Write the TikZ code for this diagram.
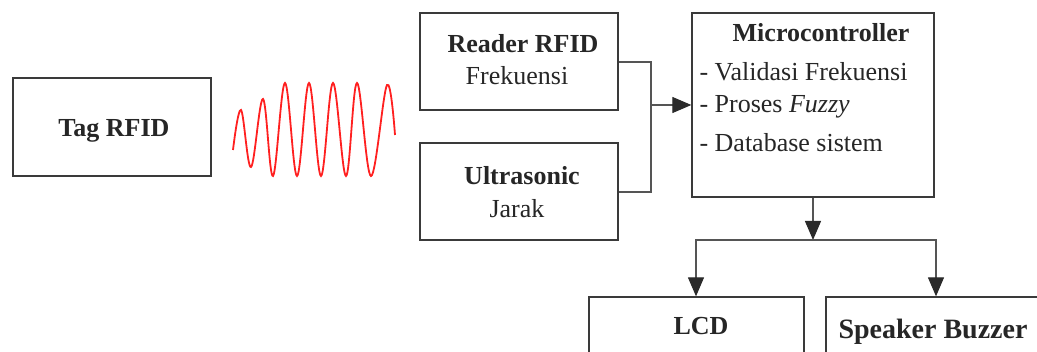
\documentclass[tikz,border=0pt]{standalone}
\usepackage{fontspec}
\setmainfont{Liberation Serif}
\usepackage{xcolor}
\usetikzlibrary{arrows.meta}

\definecolor{boxline}{HTML}{3A3A3A}
\definecolor{wireline}{HTML}{555555}
\definecolor{tipfill}{HTML}{2A2A2A}
\definecolor{waveline}{HTML}{FF2020}

\tikzset{
  blok/.style={draw=boxline, line width=1.3pt, inner sep=0pt},
  wire/.style={draw=wireline, line width=1.2pt},
  panah/.style={wire, -{Triangle[length=19pt,width=16pt,color=tipfill]}},
  teks/.style={font=\fontsize{26}{31}\selectfont, text=black!85},
  tebal/.style={teks, font=\fontsize{26}{31}\selectfont\bfseries}
}

\begin{document}
\begin{tikzpicture}[x=1pt, y=-1pt]
  \useasboundingbox (0,0) rectangle (1037,352);
  \clip (0,0) rectangle (1037,352);
  % blocks
  \node[blok, minimum width=198pt, minimum height=98pt] (tag) at (112,127) {};
  \node[blok, minimum width=198pt, minimum height=97pt] (reader) at (519,61.5) {};
  \node[blok, minimum width=198pt, minimum height=97pt] (ultra) at (519,191.5) {};
  \node[blok, minimum width=242pt, minimum height=184pt] (mcu) at (813,105) {};
  \node[blok, minimum width=215pt, minimum height=110pt] (lcd) at (696.5,352) {};
  \node[blok, minimum width=240pt, minimum height=110pt] (buzzer) at (946,352) {};
  % texts
  \node[tebal, anchor=base] (tagtxt) at (114,137) {Tag RFID};
  \node[tebal, anchor=base] (readertxt) at (523,53) {Reader RFID};
  \node[teks, anchor=base] (frektxt) at (517,85) {Frekuensi};
  \node[tebal, anchor=base] (ultratxt) at (522,185) {Ultrasonic};
  \node[teks, anchor=base] (jaraktxt) at (517,218) {Jarak};
  \node[tebal, anchor=base] (mcutxt) at (821,42) {Microcontroller};
  \node[teks, anchor=base west] (item1) at (696,81) {- Validasi Frekuensi};
  \node[teks, anchor=base west] (item2) at (696,113) {- Proses \textit{Fuzzy}};
  \node[teks, anchor=base west] (item3) at (696,152) {- Database sistem};
  \node[tebal, anchor=base] (lcdtxt) at (701,335) {LCD};
  \node[tebal, font=\fontsize{28}{33}\selectfont\bfseries, anchor=base] (buzzertxt) at (933,339) {Speaker Buzzer};
  % signal
  \draw[waveline, line width=1.8pt] plot[smooth, tension=0.6] coordinates {
    (233,150) (241,110) (251,167) (263,99) (273,176) (285,83) (297,176)
    (309,83) (321,176) (333,83) (346,176) (357,83) (371,176) (387,85) (395,135)};
  % connectors
  \coordinate (join) at (651,105);
  \coordinate (split) at (813,240);
  \draw[wire] (reader.east |- 0,62) -| (join) |- (ultra.east |- 0,192);
  \draw[panah] (join) -- (mcu.west |- join);
  \draw[panah] (mcu.south -| split) -- (split);
  \draw[panah] (split) -| (lcd.north -| 696,0);
  \draw[panah] (split) -| (buzzer.north -| 936,0);
\end{tikzpicture}
\end{document}
